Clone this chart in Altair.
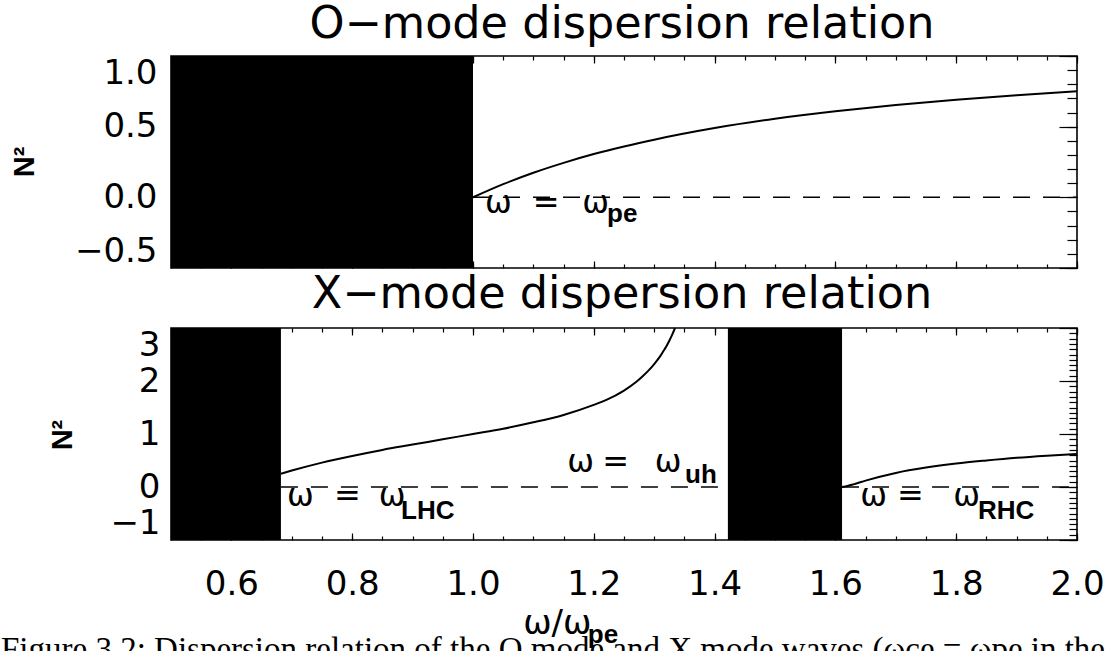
import altair as alt
import pandas as pd

# ---------------- data ----------------
X_DOMAIN = [0.5, 2.0]
O_Y_DOMAIN = [-0.5, 1.0]
X_Y_DOMAIN = [-1.0, 3.0]

# O-mode panel
o_block_start = [0.5]
o_block_end = [1.0]
o_omega = [1.00, 1.05, 1.10, 1.15, 1.20, 1.25, 1.30, 1.40, 1.50, 1.60, 1.70, 1.80, 1.90, 2.00]
o_n2 = [0.00, 0.093, 0.174, 0.244, 0.306, 0.36, 0.408, 0.490, 0.556, 0.609, 0.654, 0.691, 0.723, 0.750]
o_cut_start = [1.0]
o_cut_end = [2.0]

# X-mode panel
x_block_start = [0.5, 1.422]
x_block_end = [0.682, 1.611]
xl_omega = [0.682, 0.70, 0.75, 0.80, 0.85, 0.90, 0.95, 1.00, 1.05, 1.10, 1.15, 1.20, 1.22,
            1.25, 1.27, 1.28, 1.29, 1.30, 1.31, 1.315, 1.32, 1.325, 1.33, 1.3345]
xl_n2 = [0.25, 0.31, 0.46, 0.586, 0.70, 0.80, 0.90, 1.00, 1.10, 1.22, 1.36, 1.55, 1.64,
         1.82, 1.98, 2.08, 2.19, 2.32, 2.47, 2.56, 2.65, 2.76, 2.88, 3.0]
xr_omega = [1.611, 1.62, 1.63, 1.65, 1.70, 1.75, 1.80, 1.85, 1.90, 1.95, 2.00]
xr_n2 = [0.0, 0.02, 0.05, 0.12, 0.265, 0.366, 0.442, 0.50, 0.551, 0.591, 0.625]
x_cut_start = [0.682, 1.611]
x_cut_end = [1.422, 2.0]

# axis ticks
x_tick_labels = [0.6, 0.8, 1.0, 1.2, 1.4, 1.6, 1.8, 2.0]
x_minor_ticks = [round(0.5 + 0.05 * i, 2) for i in range(31)]
o_y_labels = [-0.5, 0.0, 0.5, 1.0]
o_y_minor = [round(-0.5 + 0.1 * i, 1) for i in range(16)]
x_y_labels = [-1, 0, 1, 2, 3]
x_y_minor = [round(-1.0 + 0.1 * i, 1) for i in range(41)]

# titles
o_title = ["O−mode dispersion relation"]
o_title_x = [1.2467]
o_title_y = [1.1286]
x_title = ["X−mode dispersion relation"]
x_title_x = [1.2467]
x_title_y = [3.377]
y_title = ["N²"]
o_ytitle_x = [0.2583]
o_ytitle_y = [0.25]
x_ytitle_x = [0.3212]
x_ytitle_y = [0.98]

# annotations
o_ann_text = ["ω", "=", "ω"]
o_ann_x = [1.020, 1.099, 1.181]
o_ann_y = [-0.114, -0.114, -0.114]
o_sub_text = ["pe"]
o_sub_x = [1.222]
o_sub_y = [-0.171]

x_ann_text = ["ω", "=", "ω", "ω", "=", "ω", "ω", "=", "ω"]
x_ann_x = [0.692, 0.770, 0.844, 1.156, 1.214, 1.301, 1.641, 1.702, 1.795]
x_ann_y = [-0.358, -0.358, -0.358, 0.283, 0.283, 0.283, -0.358, -0.358, -0.358]
x_sub_text = ["LHC", "uh", "RHC", "pe"]
x_sub_x = [0.881, 1.351, 1.836, 1.19]
x_sub_y = [-0.60, 0.075, -0.60, -2.94]
xtitle_text = ["ω/ω"]
xtitle_x = [1.083]
xtitle_y = [-2.774]
caption_text = ["Figure 3.2: Dispersion relation of the O mode and X mode waves (ωce = ωpe in the"]
caption_x = [0.2185]
caption_y = [-3.255]


# ---------------- helpers ----------------
def tick_axis(orient, values, size):
    return alt.Axis(orient=orient, values=values, tickSize=size, offset=-size,
                    labels=False, domain=False, grid=False, title=None,
                    ticks=True, tickWidth=1.2, tickColor="black")


def tdf(t, x, y):
    return pd.DataFrame({"t": t, "x": x, "y": y})


def panel(y_dom, bstart, bend, curve_df, cstart, cend, ann_df, sub_df, extra,
          y_labels, y_fmt, y_minor, y_major_tick, y_minor_tick, show_x_labels, lab_pad):
    xs = alt.Scale(domain=X_DOMAIN, nice=False, zero=False)
    ys = alt.Scale(domain=y_dom, nice=False, zero=False)

    blocks = pd.DataFrame({"x0": bstart, "x1": bend,
                           "y0": [y_dom[0]] * len(bstart), "y1": [y_dom[1]] * len(bstart)})
    cuts = pd.DataFrame({"x0": cstart, "x1": cend, "y": [0.0] * len(cstart)})

    if show_x_labels:
        x_bottom = alt.Axis(orient="bottom", values=x_tick_labels, tickSize=7, offset=-7,
                            labels=True, format=".1f", labelFlush=False, labelPadding=27,
                            domain=False, grid=False, title=None, tickWidth=1.2,
                            tickColor="black")
    else:
        x_bottom = tick_axis("bottom", x_tick_labels, 7)

    y_left = alt.Axis(orient="left", values=y_labels, ticks=False, domain=False, grid=False,
                      format=y_fmt, labelFlush=True, labelPadding=lab_pad, title=None)

    rect = alt.Chart(blocks).mark_rect(color="black").encode(
        x=alt.X("x0:Q", scale=xs, axis=x_bottom),
        x2="x1:Q",
        y=alt.Y("y0:Q", scale=ys, axis=y_left),
        y2="y1:Q",
    )
    line = alt.Chart(curve_df).mark_line(color="black", strokeWidth=2,
                                         interpolate="monotone").encode(
        x=alt.X("w:Q", scale=xs, axis=tick_axis("top", x_tick_labels, 7)),
        y=alt.Y("n2:Q", scale=ys, axis=tick_axis("right", y_labels, y_major_tick)),
        detail="branch:N",
    )
    rule = alt.Chart(cuts).mark_rule(color="black", strokeWidth=1.5, strokeDash=[17, 13]).encode(
        x=alt.X("x0:Q", scale=xs, axis=tick_axis("bottom", x_minor_ticks, 4)),
        x2="x1:Q",
        y=alt.Y("y:Q", scale=ys, axis=tick_axis("right", y_minor, y_minor_tick)),
    )
    ann = alt.Chart(ann_df).mark_text(font="DejaVu Sans", fontSize=32, align="left",
                                      baseline="alphabetic", color="black").encode(
        x=alt.X("x:Q", scale=xs, axis=tick_axis("top", x_minor_ticks, 4)),
        y=alt.Y("y:Q", scale=ys, axis=None),
        text="t:N",
    )
    sub = alt.Chart(sub_df).mark_text(font="Liberation Sans", fontWeight="bold", fontSize=26,
                                      align="left", baseline="alphabetic", color="black").encode(
        x=alt.X("x:Q", scale=xs, axis=None),
        y=alt.Y("y:Q", scale=ys, axis=None),
        text="t:N",
    )
    layers = [rect, line, rule, ann, sub]
    for df, kw in extra:
        props = dict(align="left", baseline="alphabetic", color="black")
        props.update(kw)
        layers.append(alt.Chart(df).mark_text(**props).encode(
            x=alt.X("x:Q", scale=xs, axis=None),
            y=alt.Y("y:Q", scale=ys, axis=None),
            text="t:N",
        ))
    return alt.layer(*layers).resolve_axis(x="independent", y="independent").properties(
        width=906, height=212,
    )


o_curve = pd.DataFrame({"w": o_omega, "n2": o_n2, "branch": ["o"] * len(o_omega)})
x_curve = pd.DataFrame({
    "w": xl_omega + xr_omega,
    "n2": xl_n2 + xr_n2,
    "branch": ["L"] * len(xl_omega) + ["R"] * len(xr_omega),
})

TITLE_STYLE = dict(font="DejaVu Sans", fontSize=44.5, align="center")
YTITLE_STYLE = dict(font="Liberation Sans", fontWeight="bold", fontSize=29, angle=270,
                    align="center", baseline="middle")

top = panel(
    O_Y_DOMAIN, o_block_start, o_block_end, o_curve, o_cut_start, o_cut_end,
    tdf(o_ann_text, o_ann_x, o_ann_y), tdf(o_sub_text, o_sub_x, o_sub_y),
    [
        (tdf(o_title, o_title_x, o_title_y), TITLE_STYLE),
        (tdf(y_title, o_ytitle_x, o_ytitle_y), YTITLE_STYLE),
    ],
    o_y_labels, ".1f", o_y_minor, 18, 10, False, 14,
)

bottom = panel(
    X_Y_DOMAIN, x_block_start, x_block_end, x_curve, x_cut_start, x_cut_end,
    tdf(x_ann_text, x_ann_x, x_ann_y), tdf(x_sub_text, x_sub_x, x_sub_y),
    [
        (tdf(x_title, x_title_x, x_title_y), TITLE_STYLE),
        (tdf(y_title, x_ytitle_x, x_ytitle_y), YTITLE_STYLE),
        (tdf(xtitle_text, xtitle_x, xtitle_y), dict(font="DejaVu Sans", fontSize=34)),
        (tdf(caption_text, caption_x, caption_y),
         dict(font="Liberation Serif", fontSize=33, limit=1108, ellipsis="")),
    ],
    x_y_labels, "d", x_y_minor, 18, 8, True, 11,
)

chart = alt.vconcat(top, bottom, spacing=60, bounds="flush").properties(
    padding={"left": 0, "top": 1, "right": 0, "bottom": 0},
    background="white",
).configure_axis(
    labelFont="DejaVu Sans", labelFontSize=34, labelColor="black",
    tickColor="black", grid=False, domain=False,
).configure_view(stroke="black", strokeWidth=1.6)

chart.save("out.html", embed_options={"renderer": "svg", "actions": False})
